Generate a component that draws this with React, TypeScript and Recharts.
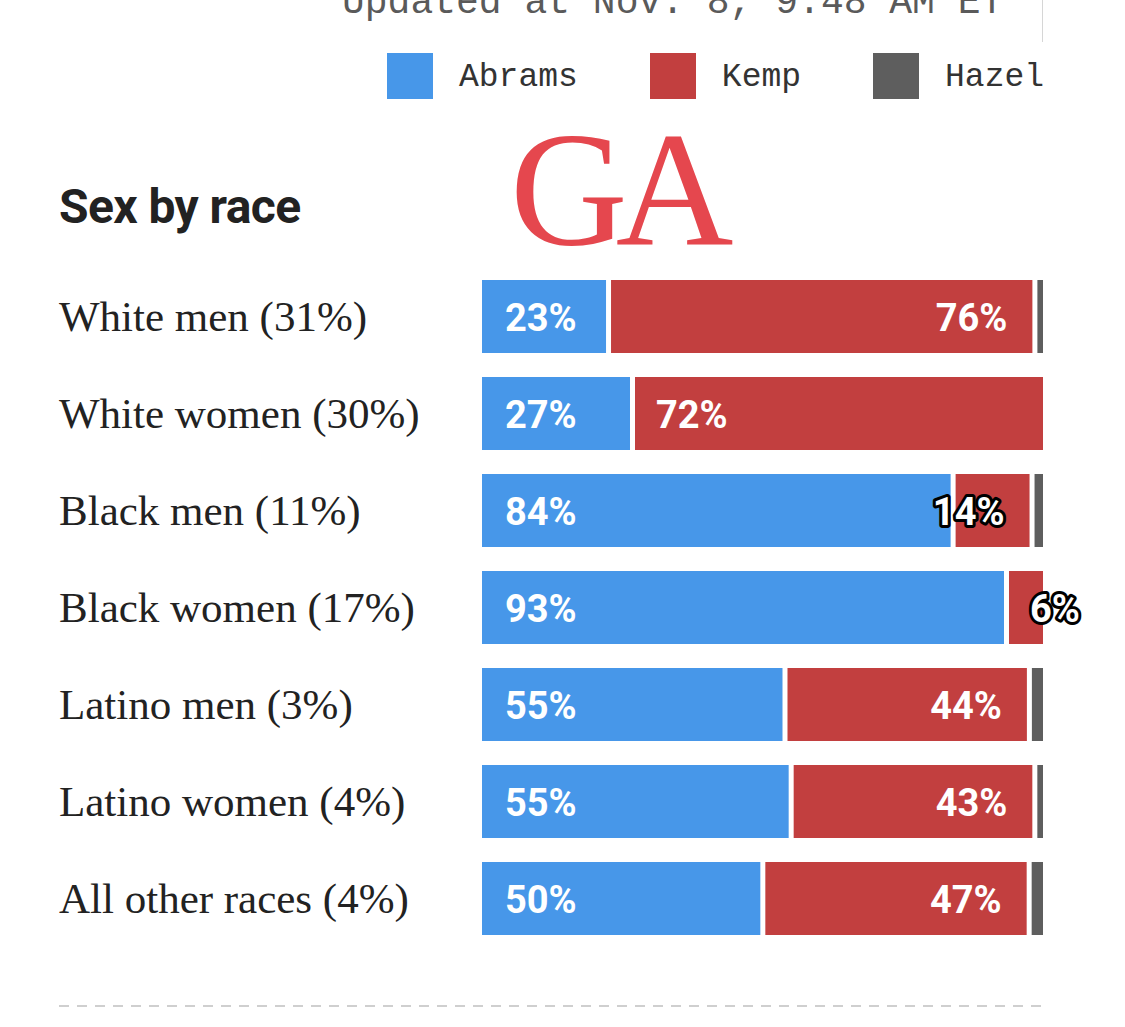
import { BarChart, Bar, XAxis, YAxis } from "recharts";

const groups = [
  "White men (31%)",
  "White women (30%)",
  "Black men (11%)",
  "Black women (17%)",
  "Latino men (3%)",
  "Latino women (4%)",
  "All other races (4%)",
];
const abrams = [23, 27, 84, 93, 55, 55, 50];
const kemp = [76, 72, 14, 6, 44, 43, 47];
// hazel shares aren't labelled, estimated from the slivers
const hazel = [1, 0, 1.5, 0, 2, 1, 2];

const series = [
  { key: "abrams", name: "Abrams", color: "#4797e9" },
  { key: "kemp", name: "Kemp", color: "#c23f3f" },
  { key: "hazel", name: "Hazel", color: "#5e5e5e" },
];

const rows = groups.map((group, i) => ({
  group,
  abrams: abrams[i],
  kemp: kemp[i],
  hazel: hazel[i],
}));

const GAP = 5;
const labelFont = "Roboto, 'Liberation Sans', sans-serif";

function BarLabel({ x, y, text, anchor, outlined }: any) {
  return (
    <text
      x={x}
      y={y}
      textAnchor={anchor}
      fontFamily={labelFont}
      fontWeight={700}
      fontSize={38}
      fill="#fff"
      stroke={outlined ? "#000" : "none"}
      strokeWidth={outlined ? 6 : 0}
      strokeLinejoin="round"
      paintOrder="stroke"
    >
      {text}
    </text>
  );
}

function segmentShape(key: string) {
  return (props: any) => {
    const { x, y, width, height, fill, payload } = props;
    if (!width || width <= 0) return <g />;
    const lastInRow = key === "hazel" || (key === "kemp" && !(payload.hazel > 0));
    const w = lastInRow ? width : Math.max(0, width - GAP);
    const base = y + height / 2 + 14;
    let label = null;
    if (key === "abrams") {
      label = <BarLabel x={x + 23} y={base} text={`${payload.abrams}%`} anchor="start" />;
    } else if (key === "kemp") {
      const outlined = w < 100;
      label = lastInRow ? (
        <BarLabel x={x + 21} y={base} text={`${payload.kemp}%`} anchor="start" outlined={outlined} />
      ) : (
        <BarLabel x={x + w - 25} y={base} text={`${payload.kemp}%`} anchor="end" outlined={outlined} />
      );
    }
    return (
      <g>
        <rect x={x} y={y} width={w} height={height} fill={fill} />
        {label}
      </g>
    );
  };
}

function GroupTick({ y, payload }: any) {
  return (
    <text
      x={59}
      y={y + 14}
      textAnchor="start"
      fontFamily="'Liberation Serif', serif"
      fontSize={43}
      fill="#222"
    >
      {payload.value}
    </text>
  );
}

export default function App() {
  return (
    <div
      style={{
        position: "absolute",
        left: 0,
        top: 0,
        width: 1125,
        height: 1027,
        background: "#fff",
        overflow: "hidden",
      }}
    >
      <div
        style={{
          position: "absolute",
          left: 342,
          top: 13 - 29,
          fontFamily: "'Liberation Mono', monospace",
          fontSize: 38,
          lineHeight: "38px",
          height: 38,
          color: "#5a5a5a",
          whiteSpace: "nowrap",
          display: "flex",
          alignItems: "flex-end",
        }}
      >
        Updated at Nov. 8, 9:48 AM ET
      </div>
      <div
        style={{
          position: "absolute",
          left: 1042,
          top: 0,
          width: 1,
          height: 42,
          background: "#d6d6d6",
        }}
      />

      <div
        style={{
          position: "absolute",
          left: 387,
          top: 51,
          display: "flex",
          alignItems: "center",
          fontFamily: "'Liberation Mono', monospace",
          fontSize: 33,
          color: "#333",
        }}
      >
        {series.map((s) => (
          <div key={s.key} style={{ display: "flex", alignItems: "center", marginRight: 72 }}>
            <div style={{ width: 46, height: 46, background: s.color, marginRight: 26 }} />
            <span style={{ lineHeight: "46px", paddingTop: 4 }}>{s.name}</span>
          </div>
        ))}
      </div>

      <div
        style={{
          position: "absolute",
          left: 59,
          top: 178,
          fontFamily: "Roboto, sans-serif",
          fontWeight: 700,
          fontSize: 48,
          lineHeight: "58px",
          color: "#222",
          letterSpacing: -0.6,
        }}
      >
        Sex by race
      </div>

      <div
        style={{
          position: "absolute",
          left: 510,
          top: 108,
          fontFamily: "'Liberation Serif', serif",
          fontSize: 163,
          lineHeight: "163px",
          color: "#e5474e",
          letterSpacing: -12,
        }}
      >
        GA
      </div>

      <div style={{ position: "absolute", left: 0, top: 0 }}>
        <BarChart
          width={1125}
          height={1027}
          data={rows}
          layout="vertical"
          stackOffset="expand"
          barSize={73}
          margin={{ top: 268, right: 82, bottom: 80, left: 59 }}
        >
          <XAxis type="number" hide domain={[0, 1]} />
          <YAxis
            type="category"
            dataKey="group"
            width={423}
            axisLine={false}
            tickLine={false}
            tick={<GroupTick />}
          />
          {series.map((s) => (
            <Bar
              key={s.key}
              dataKey={s.key}
              name={s.name}
              stackId="vote"
              fill={s.color}
              isAnimationActive={false}
              shape={segmentShape(s.key)}
            />
          ))}
        </BarChart>
      </div>

      <svg
        style={{ position: "absolute", left: 0, top: 0 }}
        width={1125}
        height={1027}
        pointerEvents="none"
      >
        <line x1={59} y1={1006} x2={1043} y2={1006} stroke="#cfcfcf" strokeWidth={2} strokeDasharray="10 8" />
      </svg>
    </div>
  );
}
